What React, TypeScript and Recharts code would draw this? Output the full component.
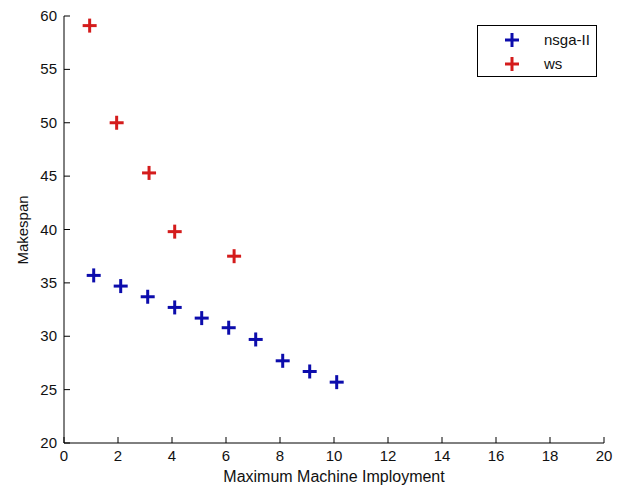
import React from 'react';
import { ScatterChart, Scatter, XAxis, YAxis, Legend } from 'recharts';

const nsgaX = [1.1, 2.1, 3.1, 4.1, 5.1, 6.1, 7.1, 8.1, 9.1, 10.1];
const nsgaY = [35.7, 34.7, 33.7, 32.7, 31.7, 30.8, 29.7, 27.7, 26.7, 25.7];
const wsX = [0.95, 1.95, 3.15, 4.1, 6.3];
const wsY = [59.1, 50.0, 45.3, 39.8, 37.5];
const xTicks = [0, 2, 4, 6, 8, 10, 12, 14, 16, 18, 20];
const yTicks = [20, 25, 30, 35, 40, 45, 50, 55, 60];

const nsgaData = nsgaX.map((x, i) => ({ x, y: nsgaY[i] }));
const wsData = wsX.map((x, i) => ({ x, y: wsY[i] }));

const BLUE = '#0c0cac';
const RED = '#d41c1c';
const FONT = '"Liberation Sans", Arial, sans-serif';
const TEXT = '#111';
const TL = 6;

const Plus = (props: any) => {
  const { cx, cy, fill } = props;
  if (cx == null || cy == null) return null;
  return (
    <g>
      <line x1={cx - 7} y1={cy} x2={cx + 7} y2={cy} stroke={fill} strokeWidth={3} />
      <line x1={cx} y1={cy - 7} x2={cx} y2={cy + 7} stroke={fill} strokeWidth={3} />
    </g>
  );
};

// bottom: tickMargin 7, so y = axisY + 7
const BottomTick = (props: any) => {
  const { x, y, payload } = props;
  const ay = y - 7;
  return (
    <g>
      <line x1={x} y1={ay} x2={x} y2={ay - TL} stroke="#000" strokeWidth={1} />
      <text x={x} y={y + 11} textAnchor="middle" fontSize={15} fill={TEXT} fontFamily={FONT}>
        {payload.value}
      </text>
    </g>
  );
};

// left: tickMargin 7, so x = axisX - 7
const LeftTick = (props: any) => {
  const { x, y, payload } = props;
  const ax = x + 7;
  return (
    <g>
      <line x1={ax} y1={y} x2={ax + TL} y2={y} stroke="#000" strokeWidth={1} />
      <text x={x} y={y + 5} textAnchor="end" fontSize={15} fill={TEXT} fontFamily={FONT}>
        {payload.value}
      </text>
    </g>
  );
};

// top: tickMargin 0 -> y = axisY
const TopTick = (props: any) => {
  const { x, y } = props;
  return <line x1={x} y1={y} x2={x} y2={y + TL} stroke="#000" strokeWidth={1} />;
};

// right: tickMargin 0 -> x = axisX
const RightTick = (props: any) => {
  const { x, y } = props;
  return <line x1={x} y1={y} x2={x - TL} y2={y} stroke="#000" strokeWidth={1} />;
};

const LegendBox = (props: any) => {
  const payload = props.payload || [];
  return (
    <div
      style={{
        border: '1px solid #000',
        background: '#fff',
        width: 118,
        height: 50,
        boxSizing: 'content-box',
        fontFamily: FONT,
        fontSize: 15,
        color: TEXT,
        position: 'relative',
      }}
    >
      {payload.map((p: any, i: number) => (
        <div
          key={i}
          style={{ position: 'absolute', left: 0, top: 4 + i * 24, height: 20, width: 118 }}
        >
          <svg width={30} height={20} style={{ position: 'absolute', left: 20, top: 0 }}>
            <line x1={7} y1={10} x2={21} y2={10} stroke={p.color} strokeWidth={3} />
            <line x1={14} y1={3} x2={14} y2={17} stroke={p.color} strokeWidth={3} />
          </svg>
          <span style={{ position: 'absolute', left: 66, top: 1 }}>{p.value}</span>
        </div>
      ))}
    </div>
  );
};

export default function App() {
  return (
    <div style={{ position: 'absolute', left: 0, top: 0, background: '#fff' }}>
      <ScatterChart
        width={623}
        height={490}
        margin={{ top: 16, right: 19, bottom: 0, left: 0 }}
        style={{ background: '#fff' }}
      >
        <XAxis
          xAxisId="b"
          type="number"
          dataKey="x"
          domain={[0, 20]}
          ticks={xTicks}
          orientation="bottom"
          height={47}
          axisLine={{ stroke: '#000', strokeWidth: 1 }}
          tickLine={false}
          tickSize={0}
          tickMargin={7}
          tick={<BottomTick />}
          interval={0}
          allowDataOverflow
          label={{
            content: () => (
              <text x={334} y={482} textAnchor="middle" fontSize={16} fill={TEXT} fontFamily={FONT}>
                Maximum Machine Imployment
              </text>
            ),
          }}
        />
        <XAxis
          xAxisId="t"
          type="number"
          dataKey="x"
          domain={[0, 20]}
          ticks={xTicks}
          orientation="top"
          height={0}
          axisLine={{ stroke: '#000', strokeWidth: 1 }}
          tickLine={false}
          tickSize={0}
          tickMargin={0}
          tick={<TopTick />}
          interval={0}
          allowDataOverflow
        />
        <YAxis
          yAxisId="l"
          type="number"
          dataKey="y"
          domain={[20, 60]}
          ticks={yTicks}
          orientation="left"
          width={64}
          axisLine={{ stroke: '#000', strokeWidth: 1 }}
          tickLine={false}
          tickSize={0}
          tickMargin={7}
          tick={<LeftTick />}
          interval={0}
          allowDataOverflow
          label={{
            content: () => (
              <text
                x={22}
                y={230}
                transform="rotate(-90, 22, 230)"
                textAnchor="middle"
                dominantBaseline="central"
                fontSize={15}
                fill={TEXT}
                fontFamily={FONT}
              >
                Makespan
              </text>
            ),
          }}
        />
        <YAxis
          yAxisId="r"
          type="number"
          dataKey="y"
          domain={[20, 60]}
          ticks={yTicks}
          orientation="right"
          width={0}
          axisLine={{ stroke: '#000', strokeWidth: 1 }}
          tickLine={false}
          tickSize={0}
          tickMargin={0}
          tick={<RightTick />}
          interval={0}
          allowDataOverflow
        />
        <Legend
          layout="vertical"
          align="center"
          verticalAlign="middle"
          wrapperStyle={{ top: 25, left: 477, width: 120, height: 52 }}
          content={<LegendBox />}
        />
        <Scatter
          name="nsga-II"
          data={nsgaData}
          xAxisId="b"
          yAxisId="l"
          fill={BLUE}
          shape={<Plus />}
          isAnimationActive={false}
        />
        <Scatter
          name="ws"
          data={wsData}
          xAxisId="b"
          yAxisId="l"
          fill={RED}
          shape={<Plus />}
          isAnimationActive={false}
        />
      </ScatterChart>
    </div>
  );
}
